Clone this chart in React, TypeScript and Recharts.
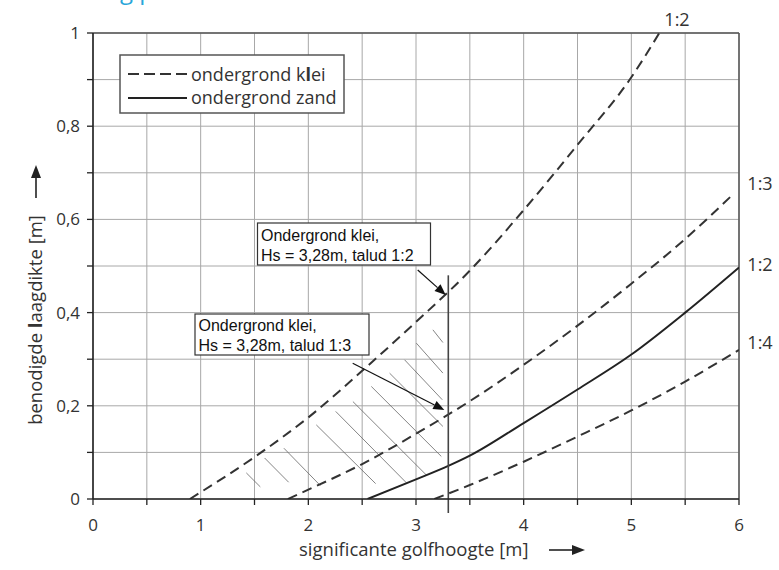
import React from 'react';
import { LineChart, Line, XAxis, YAxis, CartesianGrid, ReferenceLine } from 'recharts';

const FONT = '"Open Sans", "DejaVu Sans", sans-serif';
const BOX_FONT = '"Liberation Sans", Arial, sans-serif';

// axis ticks
const X_TICKS = [0, 0.5, 1, 1.5, 2, 2.5, 3, 3.5, 4, 4.5, 5, 5.5, 6];
const Y_TICKS = [0, 0.1, 0.2, 0.3, 0.4, 0.5, 0.6, 0.7, 0.8, 0.9, 1];

// ondergrond klei, talud 1:2 (dashed)
const klei12X = [0.9, 1.5, 2.0, 2.5, 3.0, 3.5, 4.0, 4.5, 5.0, 5.26];
const klei12Y = [0, 0.09, 0.175, 0.275, 0.38, 0.49, 0.62, 0.76, 0.905, 1.0];
// ondergrond klei, talud 1:3 (dashed)
const klei13X = [1.81, 2.0, 2.5, 3.0, 3.5, 4.0, 4.5, 5.0, 5.5, 5.95];
const klei13Y = [0, 0.02, 0.075, 0.14, 0.21, 0.288, 0.372, 0.462, 0.558, 0.655];
// ondergrond zand, talud 1:2 (solid)
const zand12X = [2.55, 3.0, 3.3, 3.5, 4.0, 4.5, 5.0, 5.5, 6.0];
const zand12Y = [0, 0.042, 0.071, 0.093, 0.163, 0.235, 0.31, 0.4, 0.497];
// ondergrond klei, talud 1:4 (dashed)
const klei14X = [3.17, 3.5, 4.0, 4.5, 5.0, 5.5, 6.0];
const klei14Y = [0, 0.03, 0.08, 0.134, 0.19, 0.252, 0.32];

// Hs = 3,28 m marker line (x, yStart, yEnd)
const hsLine = [3.3, -0.03, 0.48];

// hatching segments [x1, y1, x2, y2]
const hatchSegments: number[][] = [
  [1.424, 0.056, 1.554, 0.026],
  [1.594, 0.088, 1.817, 0.036],
  [1.773, 0.109, 2.111, 0.029],
  [2.074, 0.159, 2.625, 0.033],
  [2.254, 0.188, 2.91, 0.035],
  [2.414, 0.209, 3.098, 0.051],
  [2.585, 0.2415, 3.235, 0.0914],
  [2.755, 0.27, 3.25, 0.1557],
  [2.894, 0.2987, 3.244, 0.213],
  [3.003, 0.3345, 3.25, 0.2702],
  [3.157, 0.363, 3.25, 0.3358],
];

// annotation arrows [x1, y1, x2(tip), y2(tip)]
const arrowSegments: number[][] = [
  [3.016, 0.4914, 3.276, 0.4378],
  [2.412, 0.2912, 3.263, 0.191],
];

const zip = (xs: number[], ys: number[]) => xs.map((x, i) => ({ x, y: ys[i] }));
const klei12 = zip(klei12X, klei12Y);
const klei13 = zip(klei13X, klei13Y);
const zand12 = zip(zand12X, zand12Y);
const klei14 = zip(klei14X, klei14Y);

const fmtX = (v: number) => (Math.abs(v - Math.round(v)) < 1e-6 ? String(Math.round(v)) : '');
const fmtY = (v: number) => {
  const r = Math.round(v * 10);
  if (r % 2 !== 0) return '';
  if (r === 0) return '0';
  if (r === 10) return '1';
  return '0,' + r;
};

const ArrowShape = (p: any) => {
  const { x1, y1, x2, y2 } = p;
  if ([x1, y1, x2, y2].some((v) => typeof v !== 'number' || isNaN(v))) return <g />;
  const dx = x2 - x1;
  const dy = y2 - y1;
  const len = Math.sqrt(dx * dx + dy * dy);
  const ux = dx / len;
  const uy = dy / len;
  const hl = 11;
  const hw = 4.5;
  const bx = x2 - ux * hl;
  const by = y2 - uy * hl;
  return (
    <g>
      <line x1={x1} y1={y1} x2={bx} y2={by} stroke="#111" strokeWidth={1.2} />
      <polygon
        points={`${x2},${y2} ${bx - uy * hw},${by + ux * hw} ${bx + uy * hw},${by - ux * hw}`}
        fill="#111"
      />
    </g>
  );
};

const DASH = '10 6';
const LINE_COLOR = '#333';

export default function App() {
  return (
    <div style={{ position: 'absolute', left: 0, top: 0, width: 779, height: 570, background: '#fff' }}>
      <LineChart width={779} height={570} margin={{ top: 33, right: 40, bottom: 41, left: 0 }}>
        <CartesianGrid stroke="#a8a8a8" strokeWidth={1} />
        <XAxis
          type="number"
          dataKey="x"
          domain={[0, 6]}
          ticks={X_TICKS}
          interval={0}
          allowDataOverflow
          tickFormatter={fmtX}
          tickSize={6}
          tickMargin={14}
          height={30}
          axisLine={{ stroke: '#222', strokeWidth: 1.6 }}
          tickLine={{ stroke: '#222', strokeWidth: 1.3 }}
          tick={{ fill: '#333', fontSize: 17, fontFamily: FONT }}
        />
        <YAxis
          type="number"
          domain={[0, 1]}
          ticks={Y_TICKS}
          interval={0}
          allowDataOverflow
          tickFormatter={fmtY}
          width={93}
          tickSize={6}
          tickMargin={7}
          axisLine={{ stroke: '#222', strokeWidth: 1.6 }}
          tickLine={{ stroke: '#222', strokeWidth: 1.3 }}
          tick={{ fill: '#333', fontSize: 17, fontFamily: FONT }}
        />
        <ReferenceLine y={1} stroke="#555" strokeWidth={1.5} />
        <ReferenceLine x={6} stroke="#555" strokeWidth={1.5} />
        {hatchSegments.map((s, i) => (
          <ReferenceLine
            key={'h' + i}
            segment={[{ x: s[0], y: s[1] }, { x: s[2], y: s[3] }]}
            stroke="#666"
            strokeWidth={0.8}
            ifOverflow="visible"
          />
        ))}
        <Line data={klei12} dataKey="y" type="monotone" stroke={LINE_COLOR} strokeWidth={2} strokeDasharray={DASH} dot={false} isAnimationActive={false} />
        <Line data={klei13} dataKey="y" type="monotone" stroke={LINE_COLOR} strokeWidth={2} strokeDasharray={DASH} dot={false} isAnimationActive={false} />
        <Line data={zand12} dataKey="y" type="monotone" stroke="#222" strokeWidth={2} dot={false} isAnimationActive={false} />
        <Line data={klei14} dataKey="y" type="monotone" stroke={LINE_COLOR} strokeWidth={2} strokeDasharray={DASH} dot={false} isAnimationActive={false} />
        <ReferenceLine
          segment={[{ x: hsLine[0], y: hsLine[1] }, { x: hsLine[0], y: hsLine[2] }]}
          stroke="#444"
          strokeWidth={1.6}
          ifOverflow="visible"
        />
        {arrowSegments.map((s, i) => (
          <ReferenceLine
            key={'a' + i}
            segment={[{ x: s[0], y: s[1] }, { x: s[2], y: s[3] }]}
            stroke="#111"
            ifOverflow="visible"
            shape={ArrowShape}
          />
        ))}
      </LineChart>
      <svg
        width={779}
        height={570}
        style={{ position: 'absolute', left: 0, top: 0, pointerEvents: 'none' }}
      >
        {/* partial title */}
        <text x={120} y={-1} fontSize={24} fill="#2aa5d9" fontFamily={FONT}>g p</text>

        {/* legend */}
        <rect x={120} y={55} width={224} height={58} fill="#fff" stroke="#555" strokeWidth={1.5} />
        <line x1={128} y1={74} x2={187} y2={74} stroke="#333" strokeWidth={2} strokeDasharray="11 5" />
        <line x1={128} y1={98} x2={187} y2={98} stroke="#222" strokeWidth={2} />
        <text x={191} y={81} fontSize={18} fill="#333" fontFamily={FONT}>
          ondergrond k<tspan fontWeight="bold">l</tspan>ei
        </text>
        <text x={191} y={104} fontSize={18} fill="#333" fontFamily={FONT}>ondergrond zand</text>

        {/* annotation boxes */}
        <rect x={257.5} y={223} width={173} height={42} fill="#fff" stroke="#333" strokeWidth={1.2} />
        <text x={261} y={240.5} fontSize={16} fill="#111" fontFamily={BOX_FONT}>Ondergrond klei,</text>
        <text x={261} y={260.5} fontSize={16} fill="#111" fontFamily={BOX_FONT}>Hs = 3,28m, talud 1:2</text>

        <rect x={195} y={314} width={174} height={41} fill="#fff" stroke="#333" strokeWidth={1.2} />
        <text x={198.5} y={330.5} fontSize={16} fill="#111" fontFamily={BOX_FONT}>Ondergrond klei,</text>
        <text x={198.5} y={350.5} fontSize={16} fill="#111" fontFamily={BOX_FONT}>Hs = 3,28m, talud 1:3</text>

        {/* curve labels */}
        <text x={677} y={26} fontSize={18} fill="#333" fontFamily={FONT} textAnchor="middle">1:2</text>
        <text x={760} y={190} fontSize={18} fill="#333" fontFamily={FONT} textAnchor="middle">1:3</text>
        <text x={760} y={271} fontSize={18} fill="#333" fontFamily={FONT} textAnchor="middle">1:2</text>
        <text x={760} y={349} fontSize={18} fill="#333" fontFamily={FONT} textAnchor="middle">1:4</text>

        {/* x axis title + arrow */}
        <text x={299} y={556} fontSize={18.5} fill="#333" fontFamily={FONT}>significante golfhoogte [m]</text>
        <line x1={549} y1={550} x2={573} y2={550} stroke="#222" strokeWidth={1.6} />
        <polygon points="585,550 572,545 572,555" fill="#222" />

        {/* y axis title + arrow */}
        <text transform="translate(42,320) rotate(-90)" fontSize={18.5} fill="#333" fontFamily={FONT} textAnchor="middle">
          benodigde <tspan fontWeight="bold">l</tspan>aagdikte [m]
        </text>
        <line x1={36} y1={198} x2={36} y2={177} stroke="#222" strokeWidth={1.6} />
        <polygon points="36,165 31,178 41,178" fill="#222" />
      </svg>
    </div>
  );
}
